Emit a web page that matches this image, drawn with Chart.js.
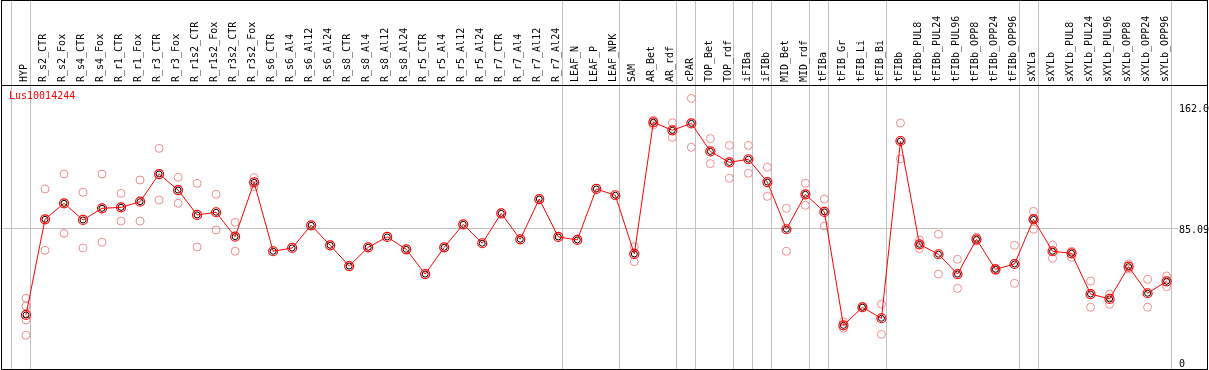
<!DOCTYPE html>
<html>
<head>
<meta charset="utf-8">
<script src="https://cdn.jsdelivr.net/npm/chart.js@4.4.1/dist/chart.umd.min.js"></script>
<style>
  body { margin: 0; background: #fff; }
  #wrap { position: relative; width: 1209px; height: 370px; }
  #frame { position: absolute; left: 1px; top: 0; width: 1207px; height: 370px; box-sizing: border-box; border: 1px solid #000; pointer-events: none; }
  #head { position: absolute; left: 1px; top: 85px; width: 1207px; height: 0; border-top: 1px solid #000; pointer-events: none; }
</style>
</head>
<body>
<div id="wrap">
  <canvas id="chart" width="1209" height="370"></canvas>
  <div id="frame"></div>
  <div id="head"></div>
</div>
<script>
// ===== données =====
const seriesName = 'Lus10014244';

const categories = [
  'HYP', 'R_s2_CTR', 'R_s2_Fox', 'R_s4_CTR', 'R_s4_Fox', 'R_r1_CTR', 'R_r1_Fox', 'R_r3_CTR', 'R_r3_Fox',
  'R_r1s2_CTR', 'R_r1s2_Fox', 'R_r3s2_CTR', 'R_r3s2_Fox', 'R_s6_CTR', 'R_s6_Al4', 'R_s6_Al12', 'R_s6_Al24',
  'R_s8_CTR', 'R_s8_Al4', 'R_s8_Al12', 'R_s8_Al24', 'R_r5_CTR', 'R_r5_Al4', 'R_r5_Al12', 'R_r5_Al24',
  'R_r7_CTR', 'R_r7_Al4', 'R_r7_Al12', 'R_r7_Al24', 'LEAF_N', 'LEAF_P', 'LEAF_NPK', 'SAM', 'AR_Bet', 'AR_rdf',
  'cPAR', 'TOP_Bet', 'TOP_rdf', 'iFIBa', 'iFIBb', 'MID_Bet', 'MID_rdf', 'tFIBa', 'tFIB_Gr', 'tFIB_Li', 'tFIB_Bi',
  'tFIBb', 'tFIBb_PUL8', 'tFIBb_PUL24', 'tFIBb_PUL96', 'tFIBb_OPP8', 'tFIBb_OPP24', 'tFIBb_OPP96',
  'sXYLa', 'sXYLb', 'sXYLb_PUL8', 'sXYLb_PUL24', 'sXYLb_PUL96', 'sXYLb_OPP8', 'sXYLb_OPP24', 'sXYLb_OPP96'
];

// moyenne par échantillon
const means = [
  29.9, 90.7, 100.9, 90.3, 97.7, 98.3, 101.9, 119.5, 109.3, 93.5, 95.2, 79.7, 114.2, 70.4, 72.5, 86.9,
  74.2, 61.0, 72.9, 79.5, 71.6, 55.9, 72.9, 87.5, 75.5, 94.5, 78.0, 103.6, 79.5, 77.6, 110.0, 106.0,
  68.7, 152.4, 147.3, 151.7, 133.9, 126.9, 128.9, 114.4, 84.4, 106.6, 95.4, 23.3, 34.8, 27.8, 140.5,
  74.8, 68.5, 55.9, 78.0, 58.9, 62.3, 90.7, 70.4, 69.1, 43.2, 40.1, 60.6, 43.7, 51.3
];

// réplicats (null = pas de réplicat affiché)
const rep1 = [
  40.5, 110.0, 119.5, 107.9, 119.5, 107.2, 115.7, 135.8, 117.4, 113.6, 106.6, 88.8, 117.2, null, null, null,
  null, null, null, null, null, null, null, null, null, null, null, null, null, null, null, null,
  73.3, 153.8, 152.1, 167.6, 142.0, 137.7, 137.7, 123.8, 97.7, 113.6, 103.6, 25.6, 35.2, 36.7, 151.9,
  77.6, 81.2, 65.3, 79.3, 59.6, 74.2, 95.8, 74.4, 70.4, 51.5, 43.2, 62.3, 52.6, 54.7
];
const rep2 = [
  35.6, 71.0, 81.8, 72.5, 76.1, 89.6, 89.6, 103.0, 100.9, 73.1, 83.9, 70.4, 111.5, null, null, null,
  null, null, null, null, null, null, null, null, null, null, null, null, null, null, null, null,
  63.8, 150.7, 142.8, 136.5, 126.1, 116.8, 120.0, 105.3, 70.4, 99.6, 86.5, 21.4, 34.4, 17.6, 129.1,
  72.1, 55.9, 46.8, 76.9, 58.3, 50.0, 84.4, 65.9, 66.5, 34.8, 36.7, 59.1, 34.8, 47.9
];
const rep3 = { 0: 26.7, 53: 91.2 };
const rep4 = { 0: 17.0 };

// fin de chaque groupe d'échantillons (trait vertical gris)
const groupEnds = [0, 28, 31, 34, 35, 37, 38, 39, 41, 42, 45, 52, 53, 60];

const yTickValues = [0, 85.09, 162.0];
const yTickLabels = ['0', '85.09', '162.0'];

// ===== helpers =====
const FONT = { family: 'DejaVu Sans Mono', size: 10, lineHeight: 1.2 };
const GRID = '#c0c0c0';
const NONE = 'rgba(0,0,0,0)';

function toPoints(arr) {
    return arr.map((v, i) => (v === null || v === undefined) ? null : { x: i, y: v }).filter(p => p);
}
function sparseToPoints(obj) {
    return Object.keys(obj).map(k => ({ x: Number(k), y: obj[k] }));
}
function repDataset(points) {
    return {
        data: points,
        showLine: false,
        pointRadius: 4,
        pointBorderWidth: 1,
        pointBorderColor: '#f08c8c',
        pointBackgroundColor: NONE
    };
}

const ctx = document.getElementById('chart').getContext('2d');
new Chart(ctx, {
    type: 'line',
    data: {
        datasets: [
            {
                label: seriesName,
                data: toPoints(means),
                borderColor: '#ff0000',
                borderWidth: 1,
                pointRadius: 4.5,
                pointBorderWidth: 1.2,
                pointBorderColor: '#ff0000',
                pointBackgroundColor: NONE,
                tension: 0
            },
            {
                label: 'core',
                data: toPoints(means),
                showLine: false,
                pointRadius: 3,
                pointBorderWidth: 1,
                pointBorderColor: '#000000',
                pointBackgroundColor: NONE
            },
            repDataset(toPoints(rep1)),
            repDataset(toPoints(rep2)),
            repDataset(sparseToPoints(rep3)),
            repDataset(sparseToPoints(rep4))
        ]
    },
    options: {
        responsive: false,
        animation: false,
        layout: { padding: 0, autoPadding: false },
        scales: {
            x: {
                type: 'linear',
                position: 'top',
                min: -1.368,
                max: 60.60,
                afterBuildTicks: s => {
                    s.ticks = [-1].concat(categories.map((c, i) => i)).map(v => ({ value: v + 0.24 }));
                },
                afterFit: s => { s.height = 85; s.paddingLeft = 0; s.paddingRight = 0; },
                ticks: {
                    autoSkip: false,
                    minRotation: 90,
                    maxRotation: 90,
                    padding: -82,
                    labelOffset: 6,
                    color: '#000',
                    font: FONT,
                    callback: (v, idx) => idx === 0 ? '' : categories[idx - 1]
                },
                grid: {
                    drawTicks: true,
                    tickLength: 85,
                    lineWidth: 1,
                    color: c => (c.index === 0 || groupEnds.includes(c.index - 1)) ? GRID : NONE
                },
                border: { display: false }
            },
            y: {
                position: 'right',
                min: -5.09,
                max: 176.10,
                afterBuildTicks: s => { s.ticks = yTickValues.map(v => ({ value: v })); },
                afterFit: s => { s.width = 31; s.paddingTop = 0; s.paddingBottom = 0; },
                ticks: {
                    padding: 1,
                    labelOffset: 2,
                    color: '#000',
                    font: FONT,
                    callback: (v, idx) => yTickLabels[idx]
                },
                grid: {
                    drawTicks: false,
                    color: c => (c.tick && c.tick.value === 85.09) ? GRID : NONE
                },
                border: { display: false }
            }
        },
        plugins: {
            tooltip: { enabled: false },
            legend: {
                position: 'chartArea',
                align: 'start',
                title: {
                    display: true,
                    text: '',
                    font: FONT,
                    padding: { top: 75, bottom: 0 }
                },
                labels: {
                    boxWidth: 0,
                    boxHeight: 0,
                    padding: 4,
                    font: FONT,
                    color: '#ff0000',
                    generateLabels: () => [{
                        text: seriesName,
                        fillStyle: NONE,
                        strokeStyle: NONE,
                        lineWidth: 0,
                        fontColor: '#ff0000',
                        datasetIndex: 0
                    }]
                }
            }
        }
    }
});
</script>
</body>
</html>
